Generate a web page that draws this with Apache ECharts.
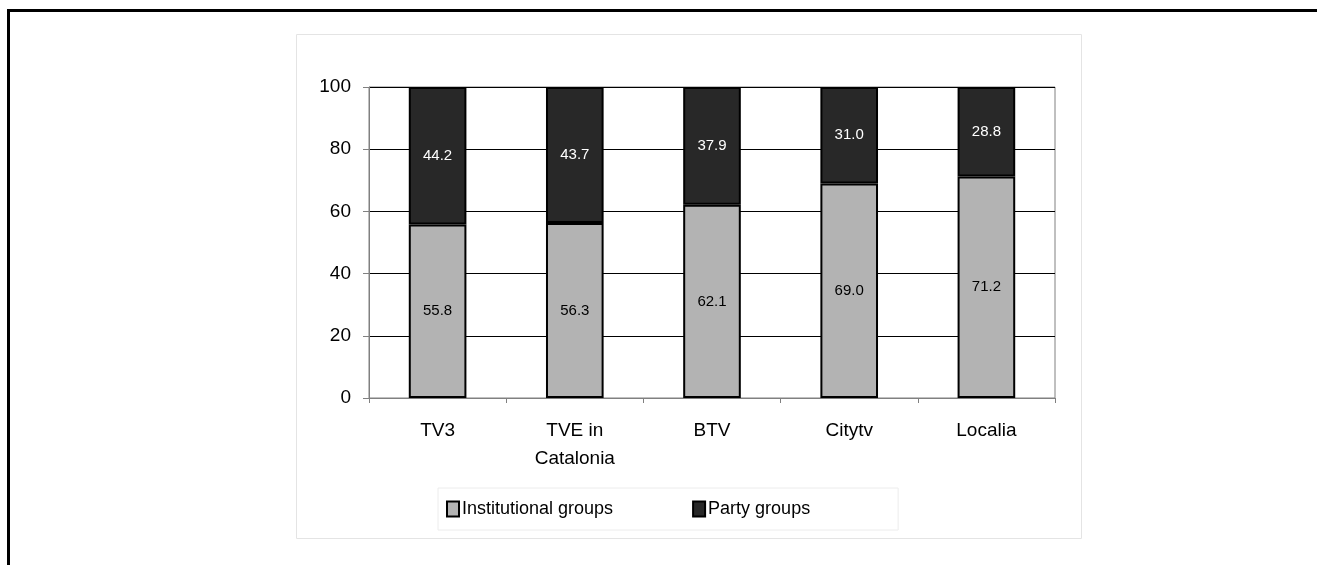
<!DOCTYPE html>
<html>
<head>
<meta charset="utf-8">
<script src="https://cdn.jsdelivr.net/npm/echarts@6/dist/echarts.min.js"></script>
<style>
  html, body { margin: 0; padding: 0; background: #fff; }
  #frame {
    position: absolute; left: 7px; top: 9px; width: 1320px; height: 570px;
    border-top: 3px solid #000; border-left: 3px solid #000;
  }
  #chart { position: absolute; left: 0; top: 0; width: 1317px; height: 565px; }
</style>
</head>
<body>
<div id="frame"></div>
<div id="chart"></div>
<script>
const channels = ['TV3', 'TVE in\nCatalonia', 'BTV', 'Citytv', 'Localia'];
const institutional = [55.8, 56.3, 62.1, 69.0, 71.2];
const party = [44.2, 43.7, 37.9, 31.0, 28.8];
const yTicks = [0, 20, 40, 60, 80, 100];

const chart = echarts.init(document.getElementById('chart'));

const fontFamily = '"Liberation Sans", Arial, sans-serif';

const option = {
  backgroundColor: 'transparent',
  animation: false,
  textStyle: { fontFamily },
  graphic: [
    {
      type: 'rect',
      shape: { x: 296.5, y: 34.5, width: 785, height: 504 },
      style: { fill: 'none', stroke: '#e4e4e4', lineWidth: 1 },
      z: -10
    }
  ],
  grid: {
    left: 369, right: 262, top: 87, bottom: 167,
    show: true, borderColor: '#808080', borderWidth: 1, backgroundColor: 'transparent'
  },
  xAxis: {
    type: 'category',
    data: channels,
    axisLine: { lineStyle: { color: '#808080', width: 1 } },
    axisTick: { show: true, length: 5, lineStyle: { color: '#808080' } },
    axisLabel: { color: '#000', fontSize: 19, margin: 19, lineHeight: 28, fontFamily }
  },
  yAxis: {
    type: 'value',
    min: yTicks[0],
    max: yTicks[yTicks.length - 1],
    interval: 20,
    axisLine: { show: true, lineStyle: { color: '#808080', width: 1 } },
    axisTick: { show: true, length: 6, lineStyle: { color: '#808080' } },
    axisLabel: { color: '#000', fontSize: 19, margin: 18, fontFamily },
    splitLine: { lineStyle: { color: '#000', width: 1 } }
  },
  legend: {
    left: 438,
    top: 488,
    padding: [12, 88, 12, 8],
    borderColor: '#ececec',
    borderWidth: 1,
    itemWidth: 12,
    itemHeight: 15,
    itemGap: 79,
    icon: 'rect',
    textStyle: { color: '#000', fontSize: 18, padding: [0, 0, 4, -2], fontFamily },
    data: ['Institutional groups', 'Party groups']
  },
  series: [
    {
      name: 'Institutional groups',
      type: 'bar',
      stack: 'total',
      barWidth: '42%',
      data: institutional,
      itemStyle: { color: '#b3b3b3', borderColor: '#000', borderWidth: 2 },
      label: {
        show: true, position: 'inside', color: '#000', fontSize: 15, fontFamily,
        formatter: p => p.value.toFixed(1)
      }
    },
    {
      name: 'Party groups',
      type: 'bar',
      stack: 'total',
      barWidth: '42%',
      data: party,
      itemStyle: { color: '#282828', borderColor: '#000', borderWidth: 2 },
      label: {
        show: true, position: 'inside', color: '#fff', fontSize: 15, fontFamily,
        formatter: p => p.value.toFixed(1)
      }
    }
  ]
};

chart.setOption(option);
window.addEventListener('resize', () => chart.resize());
</script>
</body>
</html>
